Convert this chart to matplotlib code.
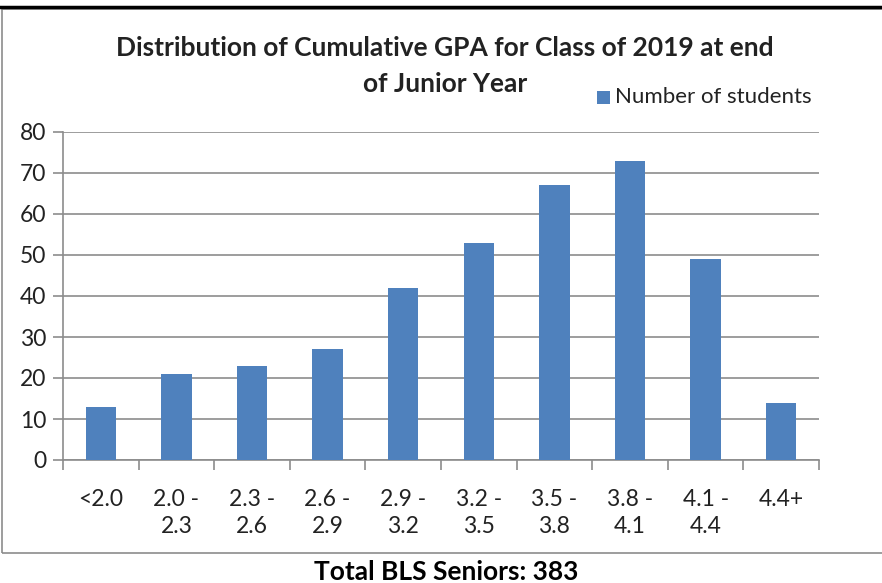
import matplotlib
matplotlib.use("Agg")
import matplotlib.pyplot as plt
import numpy as np
from matplotlib.patches import Rectangle
from matplotlib.lines import Line2D

categories = ["<2.0", "2.0 -\n2.3", "2.3 -\n2.6", "2.6 -\n2.9", "2.9 -\n3.2",
              "3.2 -\n3.5", "3.5 -\n3.8", "3.8 -\n4.1", "4.1 -\n4.4", "4.4+"]
students = [13, 21, 23, 27, 42, 53, 67, 73, 49, 14]
yticks = [0, 10, 20, 30, 40, 50, 60, 70, 80]
title_lines = ["Distribution of Cumulative GPA for Class of 2019 at end",
               "of Junior Year"]
series_name = "Number of students"
footer = "Total BLS Seniors: 383"

plt.rcParams['font.family'] = ['Lato', 'DejaVu Sans']

W, H = 882, 583
fig = plt.figure(figsize=(W / 100, H / 100), dpi=100)

def fx(px):
    return px / W

def fy(py):
    return 1 - py / H

# outer frame and top rule
fig.add_artist(Rectangle((fx(2), fy(553)), fx(890) - fx(2), fy(9) - fy(553),
                         transform=fig.transFigure, fill=False,
                         edgecolor="#8c8c8c", linewidth=1.2))
fig.add_artist(Line2D([0, 1], [fy(6.5), fy(6.5)], transform=fig.transFigure,
                      color="black", linewidth=2.5))

ax = fig.add_axes([fx(63), fy(460), fx(819) - fx(63), fy(132) - fy(460)])
x = np.arange(len(categories))
ax.bar(x, students, width=0.4, color="#4F81BD", zorder=3)

ax.set_xlim(-0.5, len(categories) - 0.5)
ax.set_ylim(0, 80)
ax.set_yticks(yticks)
ax.set_yticklabels([str(v) for v in yticks], fontsize=16.5, color="#222222")
ax.set_xticks(x)
ax.set_xticklabels(categories, fontsize=16.5, color="#222222", linespacing=1.35)
ax.set_xticks(np.arange(-0.5, len(categories)), minor=True)
ax.tick_params(axis='x', which='major', length=0, pad=21)
ax.tick_params(axis='x', which='minor', length=7, color="#8c8c8c", width=1.2)
ax.tick_params(axis='y', length=7, color="#8c8c8c", width=1.2, pad=5)
ax.yaxis.grid(True, color="#8c8c8c", linewidth=1.2, zorder=0)
for s in ["top", "right"]:
    ax.spines[s].set_visible(False)
for s in ["left", "bottom"]:
    ax.spines[s].set_color("#8c8c8c")
    ax.spines[s].set_linewidth(1.2)

fig.text(fx(445), fy(48), title_lines[0], ha="center", va="center",
         fontsize=19, fontweight="bold", color="#222222")
fig.text(fx(445), fy(84), title_lines[1], ha="center", va="center",
         fontsize=19, fontweight="bold", color="#222222")

# legend
fig.add_artist(Rectangle((fx(597), fy(104)), fx(13), fy(91) - fy(104),
                         transform=fig.transFigure, facecolor="#4F81BD",
                         edgecolor="none"))
fig.text(fx(615), fy(97), series_name, ha="left", va="center", fontsize=16,
         color="#222222")

fig.text(fx(446), fy(572), footer, ha="center", va="center", fontsize=19,
         fontweight="bold", color="black")

fig.savefig("out.png", dpi=100)
